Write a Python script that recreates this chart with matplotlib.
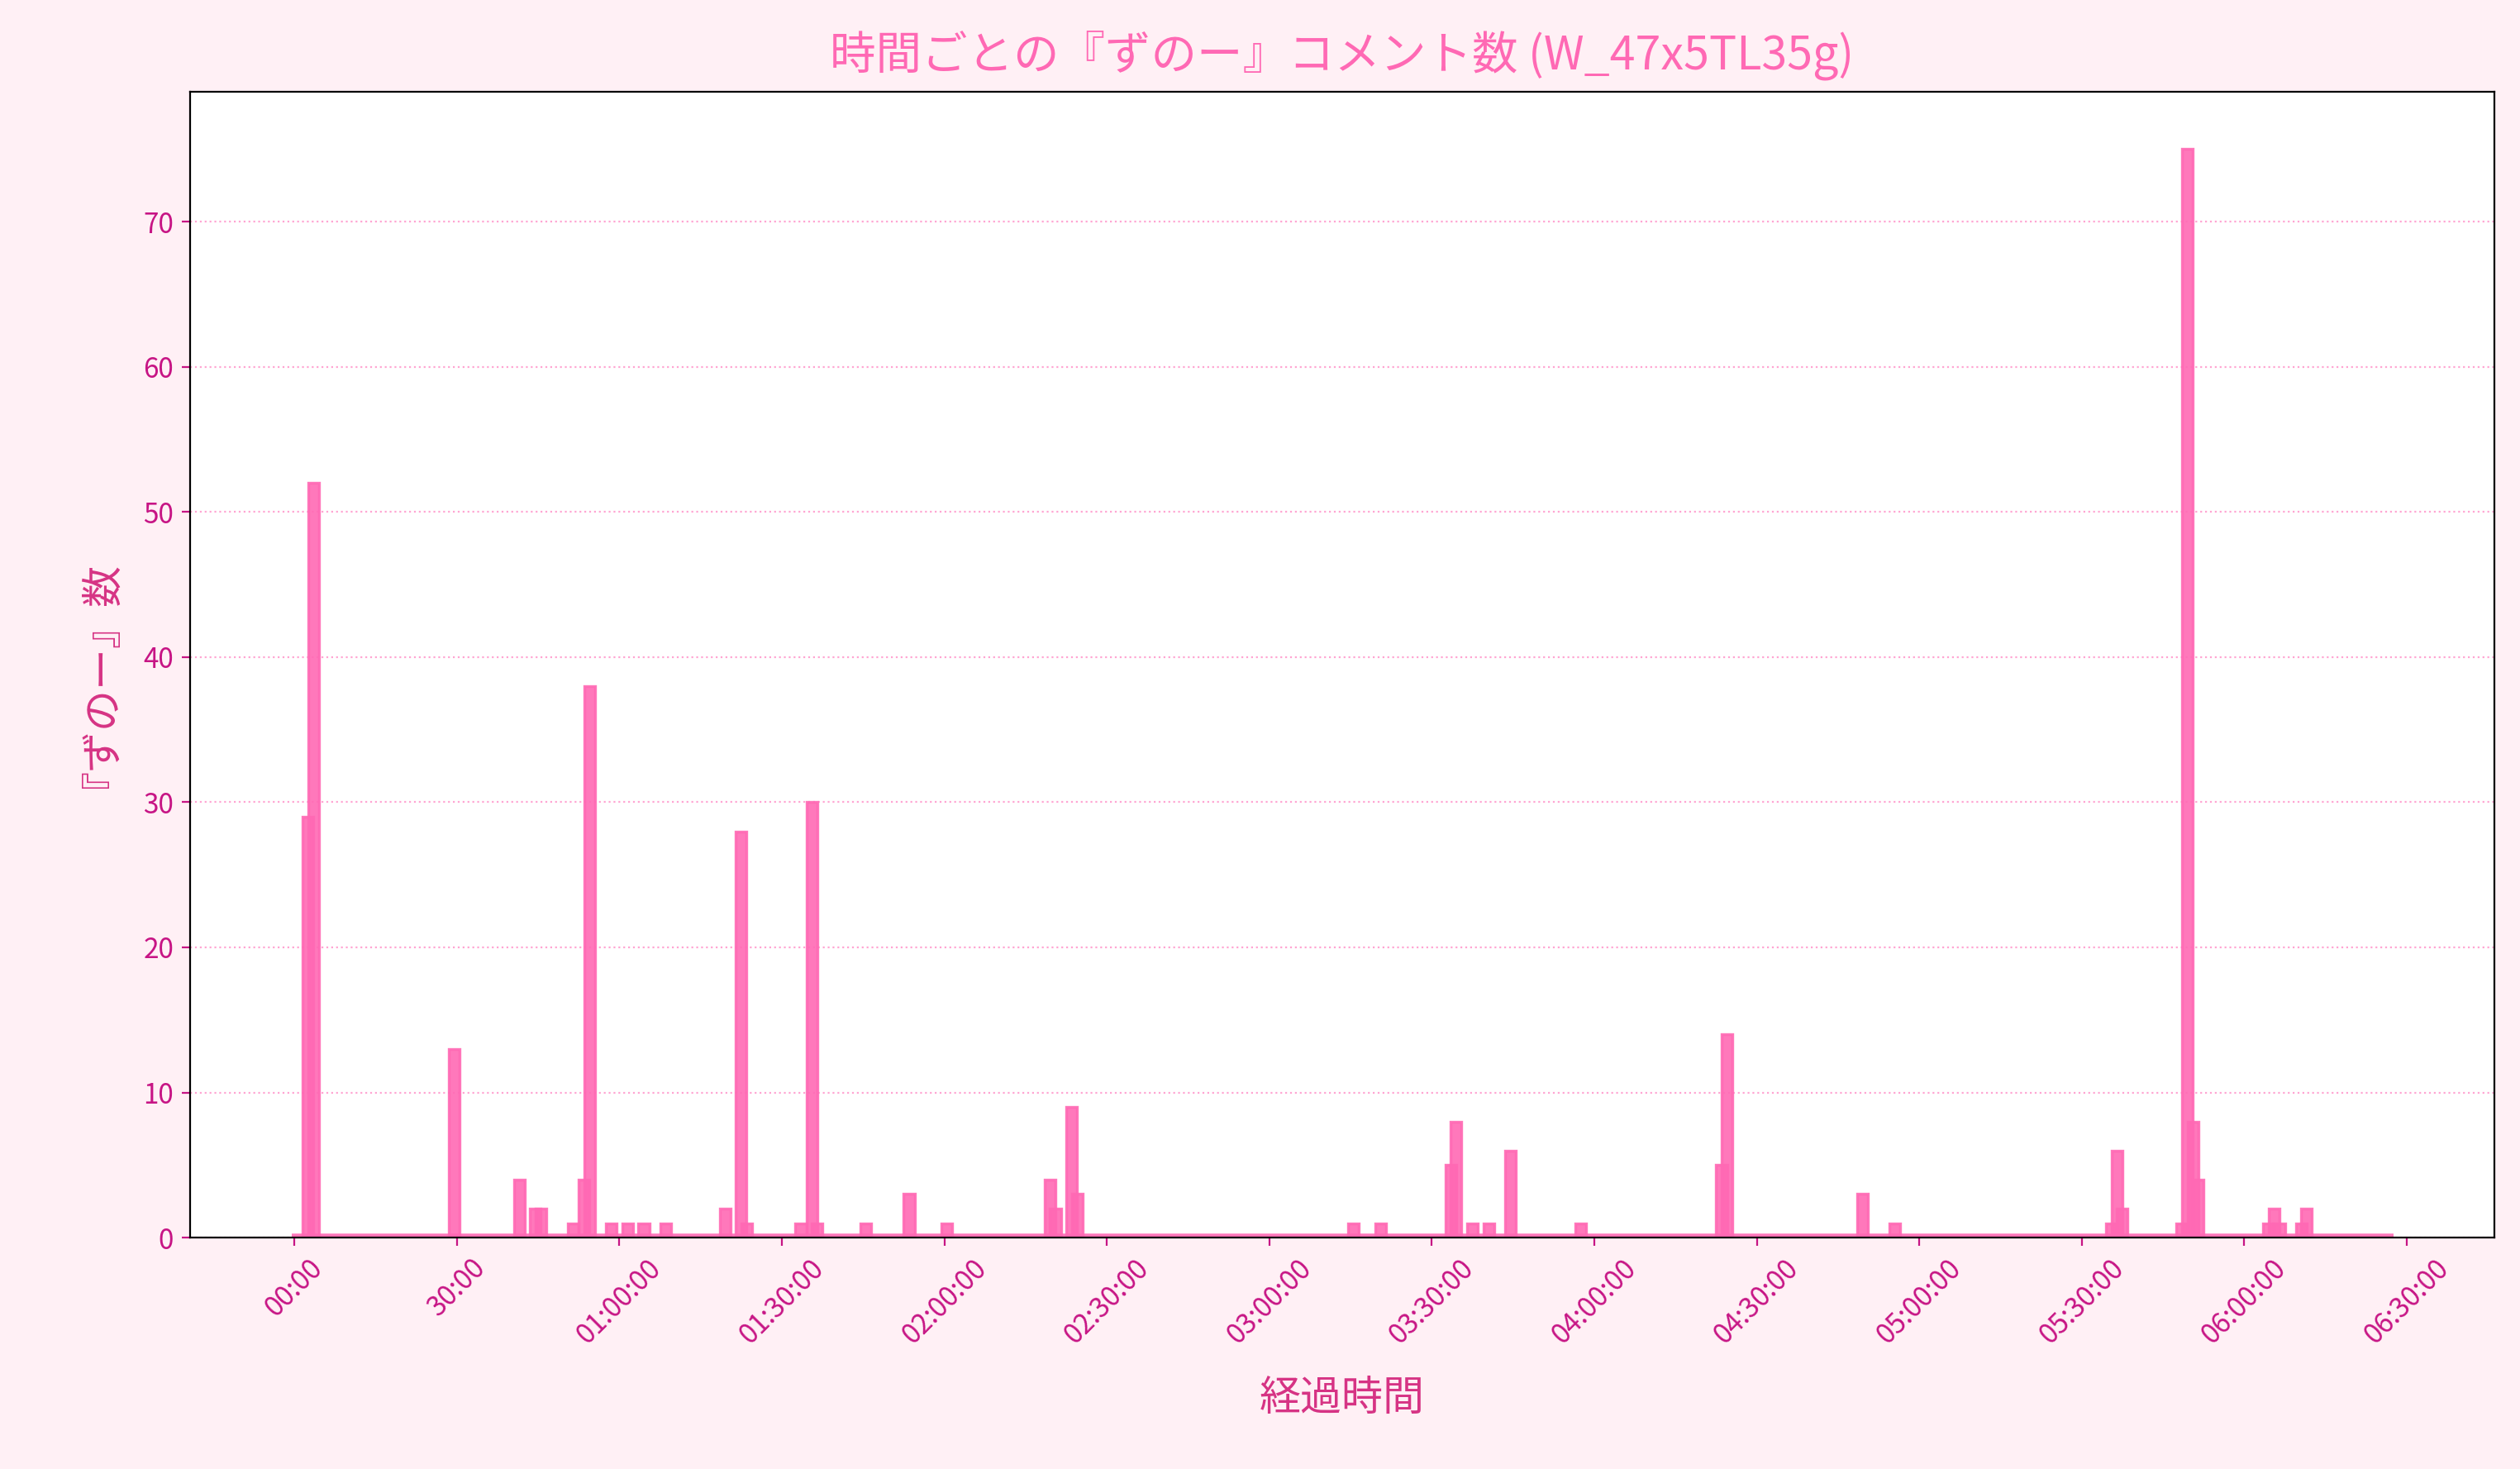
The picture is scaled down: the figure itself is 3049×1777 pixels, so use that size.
import matplotlib
matplotlib.use("Agg")
import matplotlib.pyplot as plt
import numpy as np

plt.rcParams['font.family'] = ['Noto Sans CJK JP', 'DejaVu Sans']

# minute bins (index) with non-zero counts
bins = [2, 3, 29, 41, 44, 45, 51, 53, 54, 58, 61, 64, 68, 79, 82, 83, 93, 95, 96, 105, 113, 120,
        139, 140, 143, 144, 195, 200, 213, 214, 217, 220, 224, 237, 263, 264, 289, 295,
        335, 336, 337, 348, 349, 350, 351, 364, 365, 366, 370, 371]
counts = [29, 52, 13, 4, 2, 2, 1, 4, 38, 1, 1, 1, 1, 2, 28, 1, 1, 30, 1, 1, 3, 1,
          4, 2, 9, 3, 1, 1, 5, 8, 1, 1, 6, 1, 5, 14, 3, 1,
          1, 6, 2, 1, 75, 8, 4, 1, 2, 1, 1, 2]
n_bins = 387
tick_labels = ["00:00", "30:00", "01:00:00", "01:30:00", "02:00:00", "02:30:00", "03:00:00",
               "03:30:00", "04:00:00", "04:30:00", "05:00:00", "05:30:00", "06:00:00", "06:30:00"]

full = np.zeros(n_bins)
full[bins] = counts
x = np.arange(n_bins) * 60 + 30

fig = plt.figure(figsize=(15.245, 8.885), dpi=200, facecolor='#fff0f5')
ax = fig.add_axes([0.0753, 0.1575, 0.9145, 0.7801])
ax.set_facecolor('white')
ax.bar(x, full, width=120, color='#ff69b4', alpha=0.9, edgecolor='#ff69b4', linewidth=1.2)
ax.plot([x[0] - 60, x[-1] + 60], [0.12, 0.12], color='#ff69b4', lw=2, alpha=0.9, solid_capstyle='butt')
ax.set_xlim(-1160, 24370)
ax.set_ylim(0, 78.96)
ax.set_xticks(np.arange(len(tick_labels)) * 1800)
ax.set_xticklabels(tick_labels, rotation=45, color='#c71585', fontsize=12)
ax.tick_params(axis='both', colors='#c71585', labelsize=12)
ax.grid(axis='y', linestyle=':', color='#ff69b4', alpha=0.6)
ax.set_axisbelow(True)
ax.set_title('時間ごとの『ずのー』コメント数 (W_47x5TL35g)', color='#ff69b4', fontsize=20, pad=10)
ax.set_xlabel('経過時間', color='#d63384', fontsize=18, labelpad=12)
ax.set_ylabel('『ずのー』数', color='#d63384', fontsize=18, labelpad=18)
fig.savefig('out.png', dpi=200, facecolor=fig.get_facecolor())
